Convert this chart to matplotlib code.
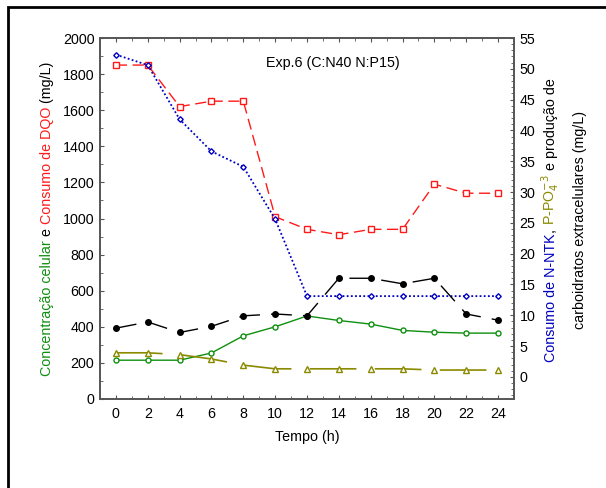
import numpy as np
import matplotlib.pyplot as plt
from matplotlib.patches import Rectangle
from matplotlib.ticker import MultipleLocator
from matplotlib.transforms import IdentityTransform

plt.rcParams['font.family'] = ['Liberation Sans', 'DejaVu Sans']

# tempo de cultivo (h)
tempo = [0, 2, 4, 6, 8, 10, 12, 14, 16, 18, 20, 22, 24]

# eixo esquerdo (mg/L)
dqo = [1850, 1850, 1620, 1650, 1650, 1010, 940, 910, 940, 940, 1190, 1140, 1140]
celular = [215, 215, 215, 255, 350, 400, 460, 435, 415, 380, 370, 365, 365]

# eixo direito (mg/L)
ntk = [52.3, 50.6, 41.8, 36.6, 34.1, 25.6, 13.1, 13.1, 13.1, 13.1, 13.1, 13.1, 13.1]
carboidratos = [7.9, 8.9, 7.2, 8.2, 9.9, 10.2, 9.9, 16.0, 16.0, 15.1, 16.0, 10.2, 9.2]
fosfato = [3.9, 3.9, 3.6, 2.9, 1.9, 1.3, 1.3, 1.3, 1.3, 1.3, 1.1, 1.1, 1.1]

VERDE = "#0f8f0f"
VERMELHO = "#ff1a1a"
AZUL = "#0000c0"
OLIVA = "#8a8a00"
FS = 10.3

fig = plt.figure(figsize=(6.06, 4.88), dpi=100)
ax = fig.add_axes([100/606, 1-399/488, 414/606, 361/488])
ax2 = ax.twinx()

# moldura da figura
fig.patches.append(Rectangle((8/606, -0.1), 1.2, 1.1-7/488, transform=fig.transFigure,
                             fill=False, lw=2, ec="black", clip_on=False))

ax.plot(tempo, dqo, color=VERMELHO, lw=1, dashes=(8, 4), marker="s", ms=4,
        mfc="white", mec=VERMELHO, mew=1, zorder=3)
ax.plot(tempo, celular, color=VERDE, lw=1, marker="o", ms=3.6, mfc="white",
        mec=VERDE, mew=1, zorder=3)

ax2.plot(tempo, ntk, color=AZUL, lw=1.3, linestyle=(0, (1, 1.3)), marker="D", ms=2.8,
         mfc="white", mec=AZUL, mew=1, zorder=3)
ax2.plot(tempo, carboidratos, color="black", lw=1, dashes=(15, 8), marker="o", ms=4,
         mfc="black", mec="black", zorder=3)
ax2.plot(tempo, fosfato, color=OLIVA, lw=1.2, dashes=(28, 11), marker="^", ms=4,
         mfc="white", mec=OLIVA, mew=1, zorder=3)

ax.set_xlim(-1, 25)
ax.set_ylim(0, 2000)
ax2.set_ylim(-3.6, 55)

ax.set_xticks(tempo)
ax.xaxis.set_minor_locator(MultipleLocator(1))
ax.yaxis.set_major_locator(MultipleLocator(200))
ax.yaxis.set_minor_locator(MultipleLocator(100))
ax2.yaxis.set_major_locator(MultipleLocator(5))
ax2.yaxis.set_minor_locator(MultipleLocator(1))
ax2.set_yticks(np.arange(0, 56, 5))

for a in (ax, ax2):
    for s in a.spines.values():
        s.set_color("#555555")
        s.set_linewidth(1.2)
ax.tick_params(which="both", direction="in", top=True, bottom=True, left=True,
               right=False, color="#555555", labelsize=FS)
ax.tick_params(axis="y", which="major", length=3, pad=4)
ax.tick_params(axis="x", which="major", length=3, pad=6)
ax.tick_params(which="minor", length=2)
ax2.tick_params(which="both", direction="in", right=True, left=False,
                color="#555555", labelsize=FS, pad=4)
ax2.tick_params(which="major", length=3)
ax2.tick_params(which="minor", length=2)

ax.set_xlabel("Tempo (h)", fontsize=FS, labelpad=6)
ax.text(0.563, 0.931, "Exp.6 (C:N40 N:P15)", transform=ax.transAxes,
        ha="center", va="center", fontsize=FS)


def texto_vertical(x, y_meio, partes):
    # escreve um rotulo vertical com trechos de cores diferentes
    fig.canvas.draw()
    r = fig.canvas.get_renderer()
    objs = []
    y = 0.0
    for s, c in partes:
        t = fig.text(x, y, s, color=c, rotation=90, rotation_mode="anchor",
                     ha="left", va="baseline", fontsize=FS, transform=IdentityTransform())
        h = t.get_window_extent(r).height
        objs.append((t, y))
        y += h
    y0 = y_meio - y / 2
    for t, yy in objs:
        t.set_position((x, y0 + yy))


texto_vertical(51, 488 - 219, [("Concentração celular", VERDE), (" e ", "black"),
                               ("Consumo de DQO", VERMELHO), (" (mg/L)", "black")])
texto_vertical(555, 488 - 220, [("Consumo de N-NTK", AZUL), (", ", "black"),
                                (r"P-PO$_4^{-3}$", OLIVA), (" e produção de", "black")])
texto_vertical(584, 488 - 220, [("carboidratos extracelulares (mg/L)", "black")])

fig.savefig("out.png", dpi=100)
